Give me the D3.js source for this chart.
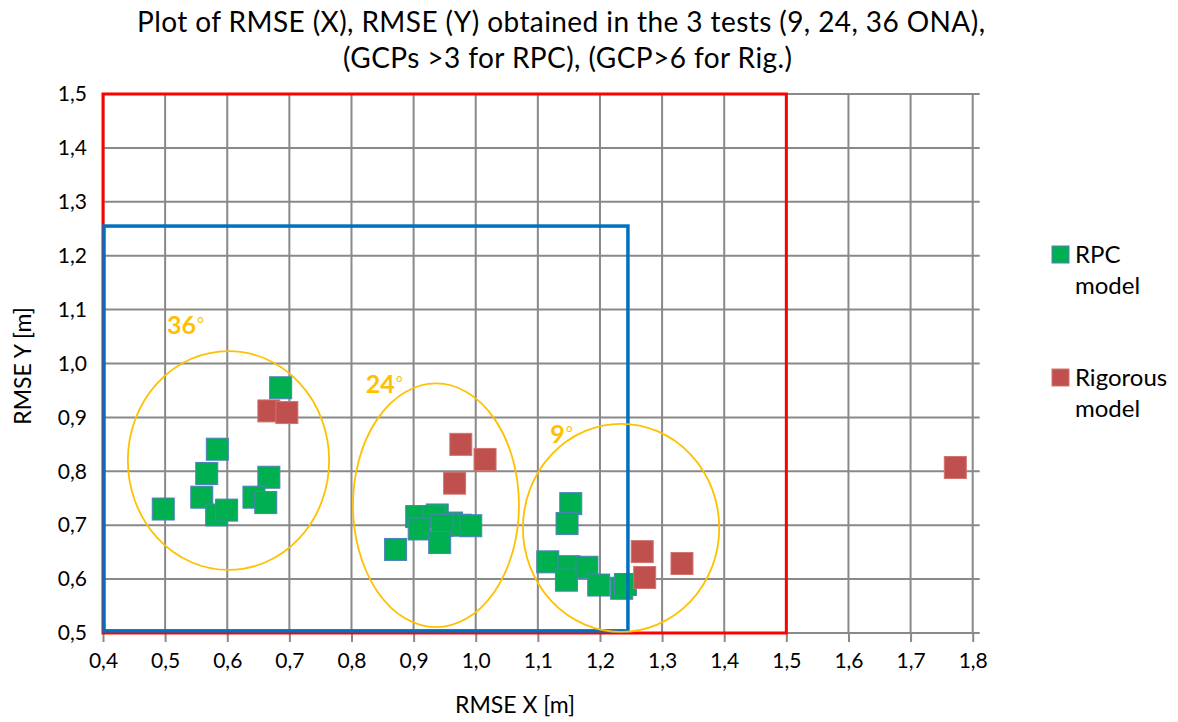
<!DOCTYPE html>
<html>
<head>
<meta charset="utf-8">
<script src="https://cdn.jsdelivr.net/npm/d3@7"></script>
<style>
  html, body { margin: 0; padding: 0; background: #fff; }
  svg { display: block; font-family: Lato, "Open Sans", sans-serif; }
</style>
</head>
<body>
<svg id="chart" width="1178" height="722"></svg>
<script>
// ---- data ----
const titleLines = ["Plot of RMSE (X), RMSE (Y) obtained in the 3 tests (9, 24, 36 ONA),",
                    "(GCPs >3 for RPC), (GCP>6 for Rig.)"];
const xTicks = [0.4,0.5,0.6,0.7,0.8,0.9,1.0,1.1,1.2,1.3,1.4,1.5,1.6,1.7,1.8];
const yTicks = [0.5,0.6,0.7,0.8,0.9,1.0,1.1,1.2,1.3,1.4,1.5];

const rpcX = [0.686,0.584,0.567,0.667,0.559,0.643,0.662,0.497,0.583,0.599,
              0.905,0.938,0.961,0.933,0.975,0.992,0.946,0.909,0.942,0.871,
              1.153,1.147,1.116,1.150,1.146,1.179,1.198,1.235,1.241];
const rpcY = [0.955,0.841,0.796,0.789,0.752,0.752,0.742,0.730,0.719,0.728,
              0.716,0.719,0.704,0.716,0.700,0.699,0.700,0.693,0.668,0.655,
              0.740,0.703,0.632,0.623,0.598,0.622,0.589,0.583,0.590];
const rigX = [0.667,0.696, 0.976,1.015,0.966, 1.268,1.272,1.332, 1.772];
const rigY = [0.912,0.909, 0.850,0.822,0.778, 0.651,0.603,0.629, 0.807];

const seriesNames = ["RPC model", "Rigorous model"];

// annotation shapes (data units)
const redBox = [0.4, 0.5, 1.5, 1.5];      // x0, y0, x1, y1
const blueBox = [0.4, 0.504, 1.245, 1.255];
const ellipseCx = [0.602, 0.936, 1.234];
const ellipseCy = [0.820, 0.737, 0.695];
const ellipseRx = [0.162, 0.1336, 0.158];
const ellipseRy = [0.203, 0.226, 0.193];
const angleLabels = ["36", "24", "9"];
const angleLabelX = [0.503, 0.823, 1.120];
const angleLabelY = [1.055, 0.945, 0.852];

// ---- layout ----
const svg = d3.select("#chart");
svg.append("rect").attr("width",1178).attr("height",722).attr("fill","#fff");

const x = d3.scaleLinear().domain([0.4, 1.8]).range([103, 972.7]);
const y = d3.scaleLinear().domain([0.5, 1.5]).range([633, 94]);
const fmt = v => d3.format(".1f")(v).replace(".", ",");

const gridColor = "#898989";

// horizontal gridlines
svg.append("g").selectAll("line").data(yTicks.slice(1)).join("line")
  .attr("x1", x(0.4)).attr("x2", x(1.8) + 7)
  .attr("y1", d => y(d)).attr("y2", d => y(d))
  .attr("stroke", gridColor).attr("stroke-width", 2);

// vertical gridlines
svg.append("g").selectAll("line").data(xTicks.slice(1)).join("line")
  .attr("x1", d => x(d)).attr("x2", d => x(d))
  .attr("y1", y(1.5)).attr("y2", y(0.5))
  .attr("stroke", gridColor).attr("stroke-width", 2);

// x axis
const xAxis = d3.axisBottom(x).tickValues(xTicks).tickFormat(fmt).tickSize(9).tickPadding(11);
const gx = svg.append("g").attr("transform", `translate(0,${y(0.5)})`).call(xAxis);
gx.select(".domain").attr("stroke", gridColor).attr("stroke-width", 2)
  .attr("d", `M${x(0.4)},0H${x(1.8) + 7}`);
gx.selectAll(".tick line").attr("stroke", gridColor).attr("stroke-width", 2);
gx.selectAll(".tick text").attr("font-size", 21).attr("fill", "#000")
  .attr("font-family", "Lato, sans-serif");

// y axis
const yAxis = d3.axisLeft(y).tickValues(yTicks).tickFormat(fmt).tickSize(0).tickPadding(16);
const gy = svg.append("g").attr("transform", `translate(${x(0.4)},0)`).call(yAxis);
gy.select(".domain").attr("stroke", gridColor).attr("stroke-width", 2);
gy.selectAll(".tick text").attr("font-size", 21).attr("fill", "#000")
  .attr("font-family", "Lato, sans-serif");

// markers
const ms = 22;
const rpc = rpcX.map((v, i) => ({x: v, y: rpcY[i]}));
const rig = rigX.map((v, i) => ({x: v, y: rigY[i]}));
svg.append("g").selectAll("rect").data(rpc).join("rect")
  .attr("x", d => x(d.x) - ms/2).attr("y", d => y(d.y) - ms/2)
  .attr("width", ms).attr("height", ms)
  .attr("fill", "#00b050").attr("stroke", "#4f7fbf").attr("stroke-width", 1);
svg.append("g").selectAll("rect").data(rig).join("rect")
  .attr("x", d => x(d.x) - ms/2).attr("y", d => y(d.y) - ms/2)
  .attr("width", ms).attr("height", ms)
  .attr("fill", "#c0504d").attr("stroke", "#cf7471").attr("stroke-width", 1);

// red box
svg.append("rect")
  .attr("x", x(redBox[0])).attr("y", y(redBox[3]))
  .attr("width", x(redBox[2]) - x(redBox[0])).attr("height", y(redBox[1]) - y(redBox[3]))
  .attr("fill", "none").attr("stroke", "#ff0000").attr("stroke-width", 3);
// blue box
svg.append("rect")
  .attr("x", x(blueBox[0]) + 1).attr("y", y(blueBox[3]))
  .attr("width", x(blueBox[2]) - x(blueBox[0]) - 1).attr("height", y(blueBox[1]) - y(blueBox[3]))
  .attr("fill", "none").attr("stroke", "#0070c0").attr("stroke-width", 3.5);

// ellipses
const ell = ellipseCx.map((c, i) => ({cx: c, cy: ellipseCy[i], rx: ellipseRx[i], ry: ellipseRy[i]}));
svg.append("g").selectAll("ellipse").data(ell).join("ellipse")
  .attr("cx", d => x(d.cx)).attr("cy", d => y(d.cy))
  .attr("rx", d => x(d.cx + d.rx) - x(d.cx)).attr("ry", d => y(d.cy) - y(d.cy + d.ry))
  .attr("fill", "none").attr("stroke", "#ffc000").attr("stroke-width", 1.8);

// angle labels
const lab = svg.append("g").selectAll("text").data(angleLabels).join("text")
  .attr("x", (d, i) => x(angleLabelX[i])).attr("y", (d, i) => y(angleLabelY[i]))
  .attr("fill", "#ffc000").attr("font-size", 25).attr("font-weight", "bold");
lab.append("tspan").text(d => d);
lab.append("tspan").attr("font-size", 17).attr("font-weight", "normal").attr("dy", -4).attr("dx", 1).text("°");

// title
const titleWidths = [848, 449];
const titleCenters = [561, 567.5];
svg.append("g").selectAll("text").data(titleLines).join("text")
  .attr("x", (d, i) => titleCenters[i]).attr("y", (d, i) => 32 + i * 36)
  .attr("text-anchor", "middle").attr("font-size", 28).attr("fill", "#000")
  .attr("textLength", (d, i) => titleWidths[i]).attr("lengthAdjust", "spacing")
  .text(d => d);

// axis titles
svg.append("text").attr("x", 515).attr("y", 713).attr("text-anchor", "middle")
  .attr("font-size", 23).attr("fill", "#000").text("RMSE X [m]");
svg.append("text").attr("transform", "translate(31,366) rotate(-90)")
  .attr("text-anchor", "middle").attr("font-size", 23).attr("fill", "#000").text("RMSE Y [m]");

// legend
const legendColors = [["#00b050", "#4f7fbf"], ["#c0504d", "#cf7471"]];
const legendTop = [246, 369];
const lg = svg.append("g");
seriesNames.forEach((name, i) => {
  lg.append("rect").attr("x", 1052).attr("y", legendTop[i]).attr("width", 17).attr("height", 17)
    .attr("fill", legendColors[i][0]).attr("stroke", legendColors[i][1]).attr("stroke-width", 1);
  const parts = name.split(" ");
  const t = lg.append("text").attr("font-size", 24).attr("fill", "#000");
  parts.forEach((p, j) => {
    t.append("tspan").attr("x", 1075).attr("y", legendTop[i] + 17 + j * 31).text(p);
  });
});
</script>
</body>
</html>
